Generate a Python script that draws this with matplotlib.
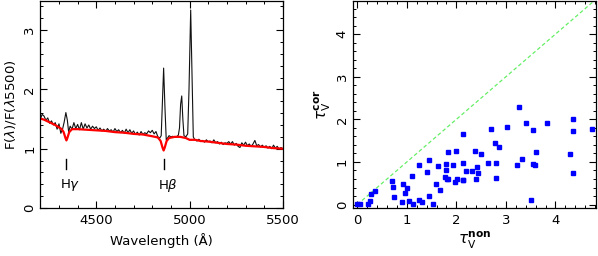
import matplotlib
matplotlib.use("Agg")
import matplotlib.pyplot as plt
from matplotlib.ticker import MultipleLocator

plt.rcParams['font.family'] = ['DejaVu Sans']
plt.rcParams['mathtext.fontset'] = 'dejavusans'

# --- Left panel: observed spectrum (black) and model (red) ---
obs_wave = [4200, 4210, 4220, 4230, 4240, 4250, 4260, 4270, 4280, 4290, 4300, 4310, 4320, 4328, 4337,
            4345, 4352, 4360, 4370, 4380, 4390, 4400, 4410, 4420, 4430, 4440, 4450, 4460, 4470, 4480,
            4490, 4500, 4510, 4520, 4530, 4540, 4550, 4560, 4570, 4580, 4590, 4600, 4610, 4620, 4630,
            4640, 4650, 4660, 4670, 4680, 4690, 4700, 4710, 4720, 4730, 4740, 4750, 4760, 4770, 4780,
            4790, 4800, 4810, 4820, 4830, 4840, 4848, 4854, 4861, 4868, 4875, 4882, 4890, 4900, 4910,
            4920, 4930, 4940, 4946, 4952, 4958, 4964, 4970, 4980, 4990, 4997, 5006, 5014, 5020, 5028,
            5040, 5050, 5060, 5070, 5080, 5090, 5100, 5110, 5120, 5130, 5140, 5150, 5160, 5170, 5180,
            5190, 5200, 5210, 5220, 5230, 5240, 5250, 5260, 5270, 5280, 5290, 5300, 5310, 5320, 5330,
            5340, 5350, 5360, 5370, 5380, 5390, 5400, 5410, 5420, 5430, 5440, 5450, 5460, 5470, 5480,
            5490, 5500]
obs_flux = [1.50, 1.58, 1.55, 1.48, 1.52, 1.43, 1.47, 1.40, 1.44, 1.33, 1.42, 1.26, 1.34, 1.45, 1.61,
            1.48, 1.28, 1.38, 1.33, 1.44, 1.34, 1.41, 1.32, 1.44, 1.33, 1.42, 1.35, 1.40, 1.33, 1.38,
            1.34, 1.37, 1.31, 1.35, 1.30, 1.33, 1.29, 1.34, 1.30, 1.32, 1.28, 1.34, 1.29, 1.32, 1.27,
            1.31, 1.26, 1.33, 1.27, 1.32, 1.26, 1.30, 1.24, 1.28, 1.23, 1.29, 1.24, 1.27, 1.25, 1.30,
            1.27, 1.31, 1.25, 1.29, 1.20, 1.18, 1.22, 1.75, 2.36, 1.70, 1.15, 1.18, 1.22, 1.20, 1.21,
            1.19, 1.20, 1.23, 1.35, 1.75, 1.89, 1.50, 1.22, 1.20, 1.25, 2.00, 3.34, 2.10, 1.20, 1.15,
            1.13, 1.16, 1.12, 1.14, 1.11, 1.15, 1.12, 1.13, 1.10, 1.15, 1.10, 1.12, 1.08, 1.11, 1.07,
            1.10, 1.09, 1.12, 1.08, 1.12, 1.06, 1.09, 1.04, 1.02, 1.10, 1.06, 1.11, 1.05, 1.08, 1.04,
            1.08, 1.14, 1.05, 1.07, 1.03, 1.06, 1.02, 1.05, 1.01, 1.04, 1.00, 1.06, 1.01, 1.04, 0.99,
            1.02, 1.00]

mod_wave = [4200, 4220, 4240, 4260, 4280, 4300, 4315, 4325, 4335, 4340, 4345, 4355, 4370, 4400, 4450,
            4500, 4550, 4600, 4650, 4700, 4750, 4800, 4830, 4845, 4855, 4861, 4867, 4877, 4890, 4920,
            4950, 4980, 5000, 5030, 5060, 5100, 5150, 5200, 5250, 5300, 5350, 5400, 5450, 5500]
mod_flux = [1.51, 1.49, 1.46, 1.43, 1.40, 1.36, 1.33, 1.28, 1.18, 1.14, 1.18, 1.28, 1.33, 1.33, 1.32,
            1.31, 1.30, 1.28, 1.27, 1.25, 1.24, 1.21, 1.19, 1.13, 1.02, 0.97, 1.02, 1.13, 1.18, 1.20,
            1.20, 1.18, 1.15, 1.15, 1.13, 1.12, 1.10, 1.08, 1.07, 1.05, 1.04, 1.03, 1.01, 1.00]

line_names = [r'H$\gamma$', r'H$\beta$']
line_waves = [4340, 4861]

# --- Right panel: tau_V comparison ---
tau_non = [0.00, 0.05, 0.22, 0.25, 0.28, 0.36, 0.71, 0.72, 0.74, 0.91, 0.93, 0.97, 1.01, 1.05, 1.11,
           1.12, 1.24, 1.25, 1.31, 1.40, 1.44, 1.45, 1.52, 1.58, 1.62, 1.66, 1.77, 1.80, 1.80, 1.81,
           1.83, 1.83, 1.93, 1.97, 2.00, 2.02, 2.14, 2.14, 2.13, 2.14, 2.20, 2.32, 2.37, 2.41, 2.40,
           2.43, 2.49, 2.64, 2.70, 2.78, 2.81, 2.81, 2.87, 3.03, 3.22, 3.26, 3.32, 3.41, 3.50, 3.55,
           3.55, 3.58, 3.61, 3.83, 4.30, 4.35, 4.36, 4.36, 4.74]
tau_cor = [0.02, 0.02, 0.02, 0.08, 0.24, 0.31, 0.55, 0.42, 0.18, 0.06, 0.49, 0.27, 0.40, 0.09, 0.68,
           0.02, 0.94, 0.10, 0.07, 0.76, 1.05, 0.20, 0.02, 0.49, 0.90, 0.35, 0.65, 0.80, 0.96, 0.61,
           1.24, 0.60, 0.94, 0.53, 1.25, 0.60, 1.65, 0.97, 0.58, 0.57, 0.79, 0.79, 1.26, 0.88, 0.61,
           0.73, 1.18, 0.97, 1.78, 1.45, 0.63, 0.97, 1.36, 1.83, 0.93, 2.29, 1.08, 1.91, 0.10, 1.74,
           0.95, 0.93, 1.24, 1.92, 1.19, 2.02, 1.73, 0.75, 1.77]
one_to_one = [0, 5]

fig = plt.figure(figsize=(5.98, 2.56), dpi=100)
ax1 = fig.add_axes([0.0674, 0.1875, 0.4056, 0.8105])
ax2 = fig.add_axes([0.590, 0.186, 0.4067, 0.812])

ax1.plot(obs_wave, obs_flux, color='#111111', lw=0.8)
ax1.plot(mod_wave, mod_flux, color='red', lw=1.6)
for name, w in zip(line_names, line_waves):
    ax1.plot([w, w], [0.65, 0.82], color='black', lw=1.0)
    ax1.text(w + 22, 0.38, name, ha='center', va='center', fontsize=9.5)
ax1.set_xlim(4200, 5500)
ax1.set_ylim(0, 3.5)
ax1.xaxis.set_major_locator(MultipleLocator(500))
ax1.xaxis.set_minor_locator(MultipleLocator(100))
ax1.yaxis.set_major_locator(MultipleLocator(1))
ax1.yaxis.set_minor_locator(MultipleLocator(0.2))
ax1.set_xlabel('Wavelength (Å)', fontsize=9.5, labelpad=5)
ax1.set_ylabel(r'F($\lambda$)/F($\lambda$5500)', fontsize=9.5, labelpad=4)

ax2.plot(one_to_one, one_to_one, color='#66ee66', lw=0.9, ls=(0, (3, 2)))
ax2.plot(tau_non, tau_cor, ls='none', marker='s', ms=3.2, color='#0000ff', mec='#0000ff')
ax2.set_xlim(-0.09, 4.82)
ax2.set_ylim(-0.09, 4.79)
ax2.xaxis.set_major_locator(MultipleLocator(1))
ax2.xaxis.set_minor_locator(MultipleLocator(0.2))
ax2.yaxis.set_major_locator(MultipleLocator(1))
ax2.yaxis.set_minor_locator(MultipleLocator(0.2))
ax2.set_xlabel(r'$\tau_{\mathrm{V}}^{\mathbf{non}}$', fontsize=11, labelpad=2)
ax2.set_ylabel(r'$\tau_{\mathrm{V}}^{\mathbf{cor}}$', fontsize=11, labelpad=2)

for ax in (ax1, ax2):
    ax.tick_params(which='both', direction='in', top=True, right=True, labelsize=9.5)
    ax.tick_params(which='major', length=5, width=0.8)
    ax.tick_params(which='minor', length=2.5, width=0.7)
    ax.tick_params(axis='x', pad=4)
    ax.tick_params(axis='y', pad=3)
    for lab in ax.get_yticklabels():
        lab.set_rotation(90)
        lab.set_va('center')
    for s in ax.spines.values():
        s.set_linewidth(0.9)

fig.savefig('out.png', dpi=100)
